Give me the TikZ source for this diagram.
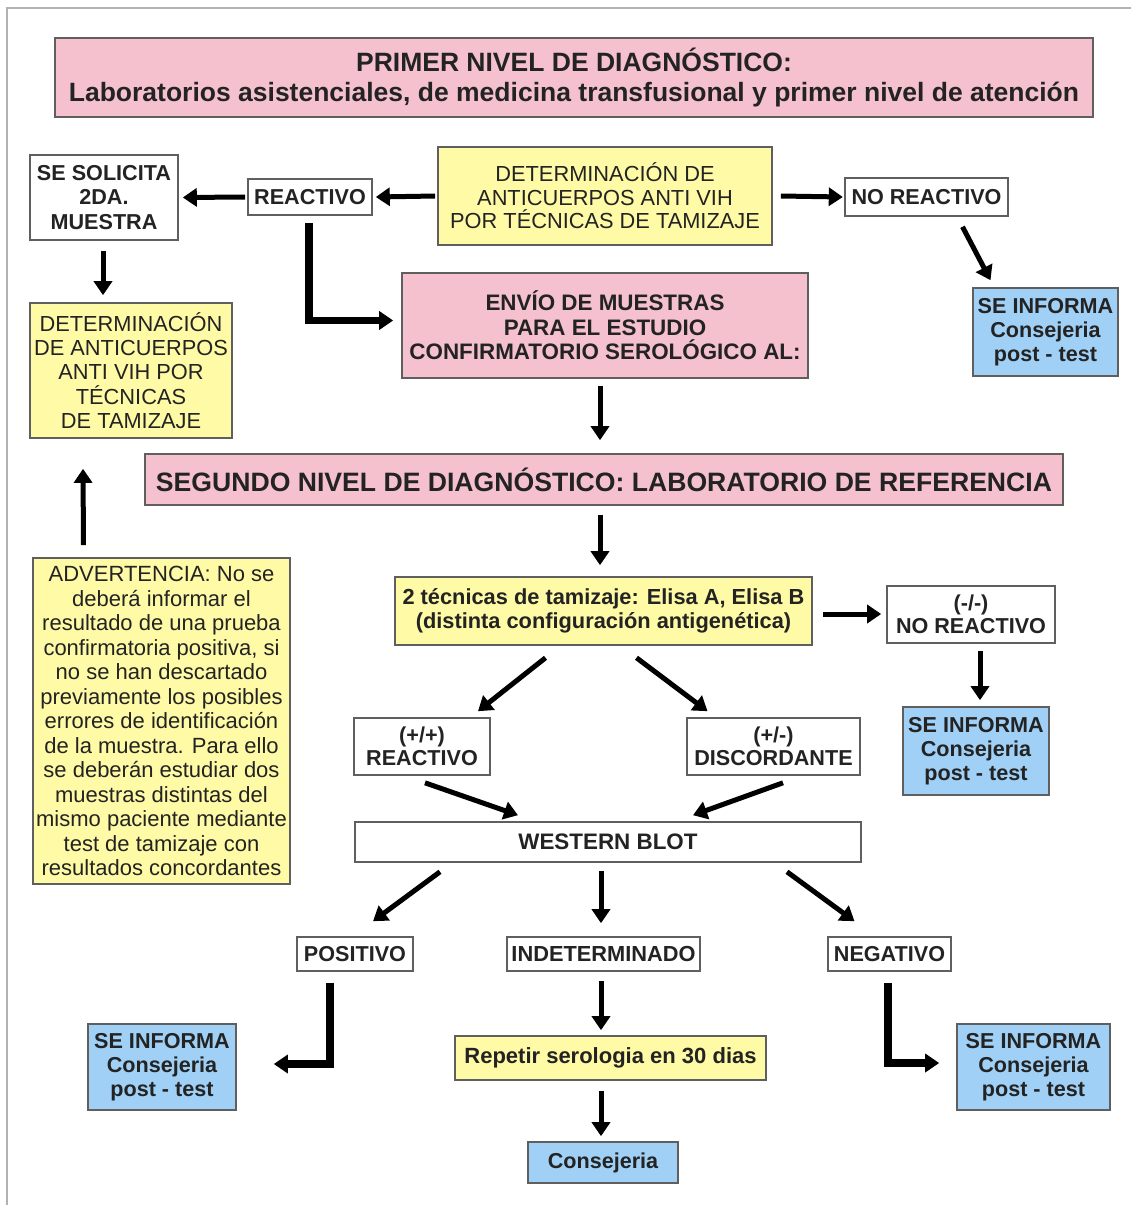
\documentclass[tikz,border=0pt]{standalone}
\usepackage{fontspec}
\setmainfont{Liberation Sans}
\usetikzlibrary{arrows.meta,calc}
\definecolor{pinkf}{RGB}{245,193,207}
\definecolor{yelf}{RGB}{255,250,165}
\definecolor{bluef}{RGB}{160,208,245}
\definecolor{edgec}{RGB}{95,95,95}
\definecolor{ink}{RGB}{35,35,35}
\begin{document}
\begin{tikzpicture}[x=1pt,y=-1pt,
 box/.style={draw=edgec,line width=1.6pt,inner sep=0pt,align=center,text=ink},
 pinkbox/.style={box,fill=pinkf},
 yelbox/.style={box,fill=yelf},
 bluebox/.style={box,fill=bluef},
 whitebox/.style={box,fill=white},
 bt/.style={font=\fontsize{21.6}{24}\selectfont\bfseries},
 rt/.style={font=\fontsize{21.8}{23.5}\selectfont},
 fat/.style={draw=black,line width=5pt,-{Triangle[length=14pt,width=18pt]}},
 fatter/.style={fat,line width=7.5pt,line join=miter},
]
\useasboundingbox (0,0) rectangle (1131,1205);
\fill[white] (0,0) rectangle (1131,1205);
\draw[gray!60,line width=1.5pt] (7,1205) -- (7,8) -- (1131,8);

% nodes
\node[pinkbox,minimum width=1038,minimum height=79,font=\fontsize{26.5}{30}\selectfont\bfseries] (h1) at (574,77.5)
 {PRIMER NIVEL DE DIAGNÓSTICO:\\Laboratorios asistenciales, de medicina transfusional y primer nivel de atención};
\node[whitebox,minimum width=148,minimum height=85,font=\fontsize{21.6}{24.5}\selectfont\bfseries] (sol) at (104,197.5)
 {SE SOLICITA\\2DA.\\MUESTRA};
\node[whitebox,bt,minimum width=124,minimum height=36] (reac) at (310,197) {REACTIVO};
\node[yelbox,rt,minimum width=334,minimum height=98] (det1) at (605,196)
 {DETERMINACIÓN DE\\ANTICUERPOS ANTI VIH\\POR TÉCNICAS DE TAMIZAJE};
\node[whitebox,bt,minimum width=163,minimum height=38] (nor) at (926.5,197) {NO REACTIVO};
\node[bluebox,bt,minimum width=145,minimum height=88] (inf1) at (1045.5,332)
 {SE INFORMA\\Consejeria\\post - test};
\node[pinkbox,minimum width=406,minimum height=105,font=\fontsize{22.4}{24.5}\selectfont\bfseries] (env) at (605,325.5)
 {ENVÍO DE MUESTRAS\\PARA EL ESTUDIO\\CONFIRMATORIO SEROLÓGICO AL:};
\node[yelbox,minimum width=202,minimum height=135,font=\fontsize{21.8}{24.3}\selectfont] (det2) at (131,370.5)
 {DETERMINACIÓN\\DE ANTICUERPOS\\ANTI VIH POR\\TÉCNICAS\\DE TAMIZAJE};
\node[pinkbox,minimum width=918,minimum height=51,font=\fontsize{26.6}{28}\selectfont\bfseries] (seg) at (604,479.5)
 {SEGUNDO NIVEL DE DIAGNÓSTICO: LABORATORIO DE REFERENCIA};
\node[yelbox,minimum width=417,minimum height=68,font=\fontsize{21.8}{24}\selectfont\bfseries] (tec) at (603.5,611)
 {2 técnicas de tamizaje: Elisa A, Elisa B\\(distinta configuración antigenética)};
\node[whitebox,minimum width=168,minimum height=57,font=\fontsize{21.6}{23}\selectfont\bfseries] (nr2) at (971,614.5)
 {(-/-)\\NO REACTIVO};
\node[bluebox,bt,minimum width=146,minimum height=88] (inf2) at (976,751)
 {SE INFORMA\\Consejeria\\post - test};
\node[whitebox,minimum width=136,minimum height=57,font=\fontsize{21.6}{23}\selectfont\bfseries] (pp) at (422,746.5)
 {(+/+)\\REACTIVO};
\node[whitebox,minimum width=173,minimum height=57,font=\fontsize{21.6}{23}\selectfont\bfseries] (pm) at (773.5,746.5)
 {(+/-)\\DISCORDANTE};
\node[whitebox,minimum width=506,minimum height=40,font=\fontsize{22.4}{24}\selectfont\bfseries] (wb) at (608,842) {WESTERN BLOT};
\node[yelbox,minimum width=257,minimum height=326,font=\fontsize{22}{24.5}\selectfont] (adv) at (161.5,721)
 {ADVERTENCIA: No se\\deberá informar el\\resultado de una prueba\\confirmatoria positiva, si\\no se han descartado\\previamente los posibles\\errores de identificación\\de la muestra. Para ello\\se deberán estudiar dos\\muestras distintas del\\mismo paciente mediante\\test de tamizaje con\\resultados concordantes};
\node[whitebox,bt,minimum width=116,minimum height=34] (pos) at (355,954) {POSITIVO};
\node[whitebox,minimum width=193,minimum height=34,font=\fontsize{21.8}{24}\selectfont\bfseries] (ind) at (603.5,954) {INDETERMINADO};
\node[whitebox,bt,minimum width=123,minimum height=34] (neg) at (889.5,954) {NEGATIVO};
\node[bluebox,bt,minimum width=148,minimum height=86] (inf3) at (162,1067)
 {SE INFORMA\\Consejeria\\post - test};
\node[yelbox,minimum width=311,minimum height=44,font=\fontsize{22}{24}\selectfont\bfseries] (rep) at (610.5,1058) {Repetir serologia en 30 dias};
\node[bluebox,bt,minimum width=153,minimum height=86] (inf4) at (1033.5,1067)
 {SE INFORMA\\Consejeria\\post - test};
\node[bluebox,bt,minimum width=150,minimum height=41] (cons) at (603,1162.5) {Consejeria};

% connectors
\draw[fat] ($(det1.west)+(-2,0)$) -- ($(reac.east)+(3,0)$);
\draw[fat] ($(reac.west)+(-2,0)$) -- ($(sol.east)+(4,0)$);
\draw[fat] ($(det1.east)+(8,0)$) -- ($(nor.east)+(-166,0)$);
\draw[fat] ($(nor.south)+(36,10)$) -- ($(inf1.north)+(-55,-7)$);
\draw[fat] ($(sol.south)+(-1,10)$) -- ($(sol.south |- det2.north)+(-1,-7)$);
\draw[fatter] ($(reac.south)+(-1,7)$) |- ($(env.west)+(-8,-5)$);
\draw[fat] ($(env.south)+(-5,7)$) -- ($(seg.north)+(-4,-13)$);
\draw[fat] ($(adv.north)+(-78,-12)$) -- ($(det2.south)+(-48,30)$);
\draw[fat] ($(seg.south)+(-4,9)$) -- ($(tec.north)+(-3.5,-11)$);
\draw[fat] ($(tec.east)+(10,3)$) -- ($(nr2.west)+(-5,-0.5)$);
\draw[fat] ($(nr2.south)+(9,7)$) -- ($(inf2.north)+(4,-6)$);
\draw[fat] ($(tec.south)+(-58,12)$) -- ($(pp.north)+(56,-6)$);
\draw[fat] ($(tec.south)+(33,12)$) -- ($(pm.north)+(-66,-6)$);
\draw[fat] ($(pp.south)+(3,7)$) -- ($(wb.north)+(-90,-6)$);
\draw[fat] ($(pm.south)+(9.5,7)$) -- ($(wb.north)+(85,-6)$);
\draw[fat] ($(wb.south)+(-168,9)$) -- ($(pos.north)+(18,-15)$);
\draw[fat] ($(wb.south)+(-7,8)$) -- ($(ind.north)+(-2.5,-13)$);
\draw[fat] ($(wb.south)+(179,9)$) -- ($(neg.north)+(-35,-15)$);
\draw[fatter] ($(pos.south)+(-25,11)$) |- ($(inf3.east)+(37,-3)$);
\draw[fat] ($(ind.south)+(-2.5,9)$) -- ($(rep.north)+(-9.5,-5)$);
\draw[fat] ($(rep.south)+(-9.5,10)$) -- ($(cons.north)+(-2,-5)$);
\draw[fatter] ($(neg.south)+(-1.5,11)$) |- ($(inf4.west)+(-17,-4)$);
\end{tikzpicture}
\end{document}
